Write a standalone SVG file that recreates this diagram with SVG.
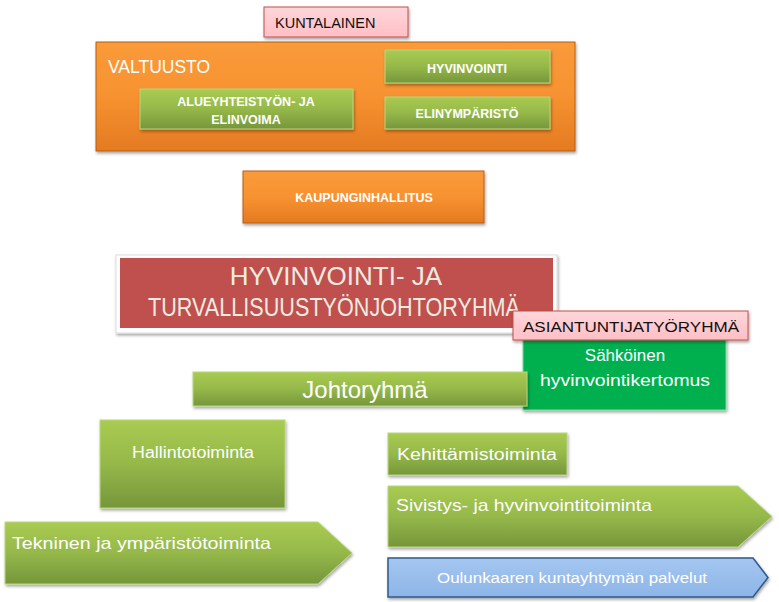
<svg xmlns="http://www.w3.org/2000/svg" width="779" height="602" viewBox="0 0 779 602">
<defs>
<linearGradient id="gGreen" x1="0" y1="0" x2="0" y2="1"><stop offset="0" stop-color="#A9CB52"/><stop offset="0.5" stop-color="#95B84A"/><stop offset="1" stop-color="#76963A"/></linearGradient>
<linearGradient id="gOrange" x1="0" y1="0" x2="0" y2="1"><stop offset="0" stop-color="#FA9A3A"/><stop offset="0.5" stop-color="#F79230"/><stop offset="1" stop-color="#E47A22"/></linearGradient>
<linearGradient id="gBlue" x1="0" y1="0" x2="0" y2="1"><stop offset="0" stop-color="#A5C6F0"/><stop offset="1" stop-color="#8DB5E8"/></linearGradient>
<linearGradient id="gPink" x1="0" y1="0" x2="0" y2="1"><stop offset="0" stop-color="#FFD6DA"/><stop offset="1" stop-color="#FFBFC5"/></linearGradient>
<filter id="sh" x="-10%" y="-10%" width="120%" height="130%"><feDropShadow dx="1" dy="2" stdDeviation="1.5" flood-color="#000" flood-opacity="0.35"/></filter>
</defs>
<style>
text{font-family:"Liberation Sans",Arial,sans-serif}
.grn{fill:url(#gGreen);stroke:#B8D77A;stroke-width:1;filter:url(#sh)}
.org{fill:url(#gOrange);stroke:#B85E10;stroke-width:1;filter:url(#sh)}
.pink{fill:url(#gPink);stroke:#C0504D;stroke-width:1;filter:url(#sh)}
.wb{fill:#fff;font-weight:bold;font-size:12.5px;text-anchor:middle}
.w{fill:#fff}
</style>
<g id="valtuusto">
<rect x="96" y="42" width="479" height="109" class="org"/>
<text x="108" y="73" class="w" font-size="17.5">VALTUUSTO</text>
</g>
<g id="kuntalainen">
<rect x="264" y="7" width="144" height="30" class="pink"/>
<text x="275" y="28" font-size="14.5" fill="#111">KUNTALAINEN</text>
</g>
<g id="hyvinvointi">
<rect x="385" y="50" width="165" height="33" class="grn"/>
<text x="467" y="73" class="wb">HYVINVOINTI</text>
</g>
<g id="alueyhteistyo">
<rect x="140" y="89" width="213" height="40" class="grn"/>
<text x="246" y="106" class="wb">ALUEYHTEISTYÖN- JA</text>
<text x="246" y="124" class="wb">ELINVOIMA</text>
</g>
<g id="elinymparisto">
<rect x="385" y="97" width="165" height="32" class="grn"/>
<text x="467" y="118" class="wb">ELINYMPÄRISTÖ</text>
</g>
<g id="kaupunginhallitus">
<rect x="243" y="171" width="241" height="52" class="org"/>
<text x="364" y="202" class="wb">KAUPUNGINHALLITUS</text>
</g>
<g id="johtoryhma-hyte">
<rect x="116" y="255" width="441" height="78" fill="#fff" stroke="#ddd" stroke-width="1" filter="url(#sh)"/>
<rect x="120" y="258" width="433" height="70" fill="#C0504D"/>
<text x="336" y="285" font-size="26" fill="#EEECE1" text-anchor="middle">HYVINVOINTI- JA</text>
<text x="334" y="316" font-size="25" fill="#EEECE1" text-anchor="middle" textLength="372" lengthAdjust="spacingAndGlyphs">TURVALLISUUSTYÖNJOHTORYHMÄ</text>
</g>
<g id="sahkoinen">
<rect x="523" y="323" width="203" height="87" fill="#00B050" stroke="#7FD79F" stroke-width="1" filter="url(#sh)"/>
<text x="625" y="361" font-size="17" class="w" text-anchor="middle">Sähköinen</text>
<text x="625" y="386" font-size="17" class="w" text-anchor="middle" textLength="170" lengthAdjust="spacingAndGlyphs">hyvinvointikertomus</text>
</g>
<g id="asiantuntijatyoryhma">
<rect x="513" y="311" width="235" height="29" class="pink"/>
<text x="631" y="332" font-size="14" fill="#111" text-anchor="middle" textLength="216" lengthAdjust="spacingAndGlyphs">ASIANTUNTIJATYÖRYHMÄ</text>
</g>
<g id="johtoryhma">
<rect x="193" y="372" width="334" height="34" class="grn"/>
<text x="365" y="398" font-size="24" class="w" text-anchor="middle">Johtoryhmä</text>
</g>
<g id="hallintotoiminta">
<rect x="100" y="420" width="185" height="88" class="grn"/>
<text x="193" y="458" font-size="16" class="w" text-anchor="middle" textLength="122" lengthAdjust="spacingAndGlyphs">Hallintotoiminta</text>
</g>
<g id="kehittamistoiminta">
<rect x="388" y="433" width="179" height="42" class="grn"/>
<text x="397" y="460" font-size="16" class="w" textLength="160" lengthAdjust="spacingAndGlyphs">Kehittämistoiminta</text>
</g>
<g id="sivistys">
<path d="M388 486 H738 L772 516.5 L738 547 H388 Z" class="grn"/>
<text x="396" y="511" font-size="17" class="w" textLength="256" lengthAdjust="spacingAndGlyphs">Sivistys- ja hyvinvointitoiminta</text>
</g>
<g id="tekninen">
<path d="M5 522 H318 L352 553 L318 584 H5 Z" class="grn"/>
<text x="12" y="549" font-size="17" class="w" textLength="259" lengthAdjust="spacingAndGlyphs">Tekninen ja ympäristötoiminta</text>
</g>
<g id="oulunkaari">
<path d="M388 558 H753 L768 577.5 L753 597 H388 Z" fill="url(#gBlue)" stroke="#2E5A8A" stroke-width="1.5" filter="url(#sh)"/>
<text x="572" y="583" font-size="14" class="w" text-anchor="middle" textLength="270" lengthAdjust="spacingAndGlyphs">Oulunkaaren kuntayhtymän palvelut</text>
</g>
<g id="connectors"/>
</svg>
